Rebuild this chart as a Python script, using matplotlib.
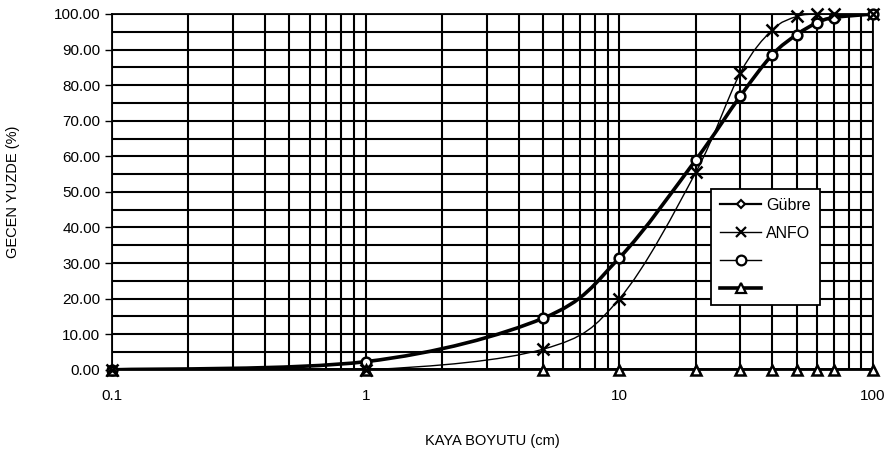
import numpy as np
import matplotlib
matplotlib.use("Agg")
import matplotlib.pyplot as plt
from matplotlib.path import Path
from matplotlib.patches import PathPatch
from matplotlib.ticker import FuncFormatter, LogLocator, MultipleLocator
from matplotlib.lines import Line2D

plt.rcParams['font.family'] = ['Liberation Sans', 'DejaVu Sans']

sizes = [0.1, 1, 5, 10, 20, 30, 40, 50, 60, 70, 100]
gubre = [0.0, 2.3, 14.5, 31.5, 59.0, 77.0, 88.5, 94.2, 97.5, 99.0, 100.0]
anfo = [0.0, 0.0, 5.8, 20.0, 55.5, 83.5, 95.5, 99.3, 100.0, 100.0, 100.0]
series3 = gubre
series4 = [0.0] * len(sizes)
legend_labels = ["Gübre", "ANFO", "", ""]

fig = plt.figure(figsize=(8.9, 4.51), dpi=100)
ax = fig.add_axes([0.126, 0.180, 0.855, 0.789])
ax.set_xscale('log')
ax.set_xlim(0.1, 100)
ax.set_ylim(0, 100)

ax.xaxis.set_major_locator(LogLocator(base=10, numticks=10))
ax.xaxis.set_minor_locator(LogLocator(base=10, subs=np.arange(2, 10), numticks=20))
ax.yaxis.set_major_locator(MultipleLocator(10))
ax.yaxis.set_minor_locator(MultipleLocator(5))
ax.grid(True, which='both', axis='both', color='black', lw=1.5)
ax.set_axisbelow(True)

ax.xaxis.set_major_formatter(FuncFormatter(lambda v, p: ('%g' % v)))
ax.xaxis.set_minor_formatter(FuncFormatter(lambda v, p: ''))
ax.yaxis.set_major_formatter(FuncFormatter(lambda v, p: '%.2f' % v))
ax.tick_params(axis='x', which='both', length=0, pad=14, labelsize=11)
ax.tick_params(axis='y', which='major', length=5, width=1, labelsize=11, direction='out')
ax.tick_params(axis='y', which='minor', length=0)
for s in ax.spines.values():
    s.set_color('black')
    s.set_linewidth(1.3)

ax.set_xlabel('KAYA BOYUTU (cm)', fontsize=10.5, labelpad=22)
ax.set_ylabel('GECEN YUZDE (%)', fontsize=10.5, labelpad=24)


def smooth_curve(xs, ys, lw, zorder=3):
    fig.canvas.draw()
    pts = ax.transData.transform(np.column_stack([xs, ys]))
    n = len(pts)
    verts = [pts[0]]
    codes = [Path.MOVETO]
    t = 1.0 / 6.0
    for i in range(n - 1):
        p0 = pts[i - 1] if i > 0 else pts[i]
        p1 = pts[i]
        p2 = pts[i + 1]
        p3 = pts[i + 2] if i + 2 < n else pts[i + 1]
        c1 = p1 + (p2 - p0) * t
        c2 = p2 - (p3 - p1) * t
        verts += [c1, c2, p2]
        codes += [Path.CURVE4] * 3
    patch = PathPatch(Path(verts, codes), facecolor='none', edgecolor='black',
                      lw=lw, transform=None, zorder=zorder, clip_on=True)
    patch.set_clip_box(ax.bbox)
    ax.add_artist(patch)


smooth_curve(sizes, gubre, 2.6)
smooth_curve(sizes, anfo, 1.0)
smooth_curve(sizes, series4, 2.6)

ax.plot(sizes, gubre, ls='none', marker='D', ms=3, mfc='white', mec='black', zorder=4, clip_on=False)
ax.plot(sizes, series3, ls='none', marker='o', ms=7, mfc='white', mec='black', mew=1.8, zorder=5, clip_on=False)
ax.plot(sizes, anfo, ls='none', marker='x', ms=9, mec='black', mew=1.8, zorder=6, clip_on=False)
ax.plot(sizes, series4, ls='none', marker='^', ms=7, mfc='white', mec='black', mew=1.8, zorder=5, clip_on=False)

handles = [
    Line2D([], [], color='black', lw=1.6, marker='D', ms=4, mfc='white', mec='black', mew=1.5),
    Line2D([], [], color='black', lw=1.0, marker='x', ms=7, mec='black', mew=1.6),
    Line2D([], [], color='black', lw=1.0, marker='o', ms=7, mfc='white', mec='black', mew=1.6),
    Line2D([], [], color='black', lw=2.6, marker='^', ms=7, mfc='white', mec='black', mew=1.6),
]
leg = ax.legend(handles, legend_labels, loc='upper left', bbox_to_anchor=(0.787, 0.508),
                frameon=True, fancybox=False, edgecolor='black', framealpha=1,
                fontsize=11.5, handlelength=2.6, handletextpad=0.3, labelspacing=0.8,
                borderpad=0.55, borderaxespad=0)
leg.get_frame().set_linewidth(1.3)
leg.set_zorder(10)

fig.savefig('out.png', dpi=100)
